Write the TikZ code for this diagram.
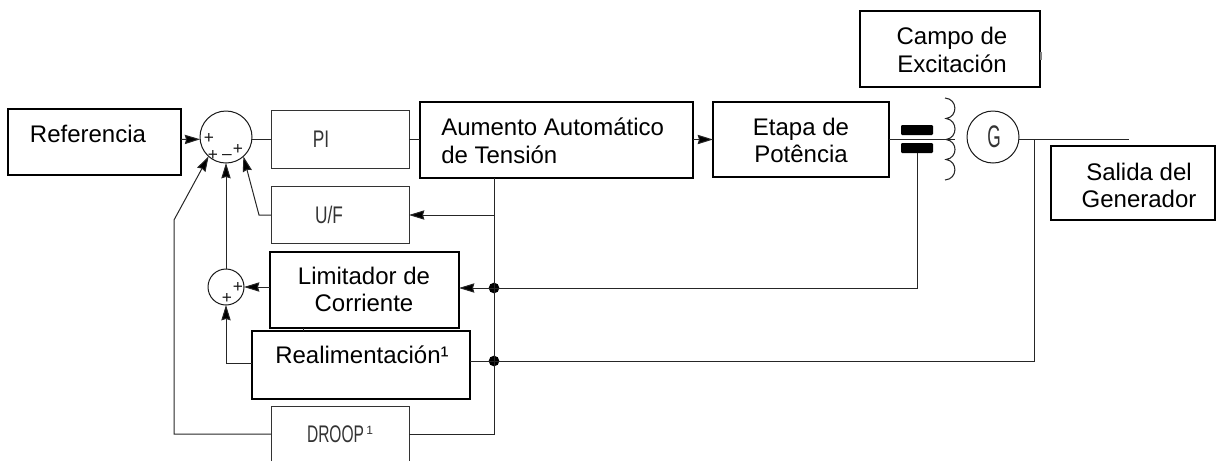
\documentclass[tikz,border=0pt]{standalone}
\usepackage{fontspec}
\setmainfont{Liberation Sans}
\usetikzlibrary{arrows.meta,calc}
\newcommand{\cadfont}[1]{\scalebox{0.72}[1]{\fontsize{18}{20}\selectfont #1}}
\tikzset{
  x=0.75pt,y=-0.75pt,
  boldbox/.style={draw=black,line width=1.3pt,inner sep=0pt,outer sep=0pt},
  thinbox/.style={draw=black!80,line width=0.75pt,inner sep=0pt,outer sep=0pt},
  ghostbox/.style={inner sep=0pt,outer sep=0pt},
  wire/.style={draw=black!85,line width=0.75pt},
  awire/.style={wire,-{Stealth[length=11.5pt,width=7pt,inset=1pt,fill=black]}},
  junction/.style={circle,fill=black,inner sep=0pt,minimum size=8pt,outer sep=0pt},
  ring/.style={circle,draw=black!90,line width=0.75pt,inner sep=0pt,outer sep=0pt},
  bar/.style={fill=black,rounded corners=0.8pt,inner sep=0pt,outer sep=0pt},
  lab/.style={align=center,font=\fontsize{18}{20.7}\selectfont,inner sep=0pt},
  cad/.style={inner sep=0pt,text=black!80},
  sign/.style={inner sep=0pt,text=black!90,font=\fontsize{13}{14}\selectfont},
}
\begin{document}
\begin{tikzpicture}
\useasboundingbox (0,0) rectangle (1216,461);
% boxes
\node[boldbox,minimum width=129.5pt,minimum height=49.5pt] (ref) at (94.5,142) {};
\node[thinbox,minimum width=103.5pt,minimum height=43.5pt] (pi) at (340,139) {};
\node[thinbox,minimum width=103.5pt,minimum height=42.75pt] (uf) at (340,214.5) {};
\node[boldbox,minimum width=204.75pt,minimum height=57pt] (aum) at (556.5,140) {};
\node[boldbox,minimum width=132pt,minimum height=56.25pt] (eta) at (801,139.5) {};
\node[boldbox,minimum width=135pt,minimum height=57pt] (cam) at (950,49) {};
\node[boldbox,minimum width=123pt,minimum height=55.5pt] (sal) at (1133,183) {};
\node[boldbox,minimum width=141.75pt,minimum height=57pt] (lim) at (364.5,290) {};
\node[boldbox,minimum width=163.5pt,minimum height=51pt] (rea) at (361,365) {};
\node[ghostbox,minimum width=103.5pt,minimum height=41.25pt] (dro) at (340,433.5) {};
\draw[thinbox] (dro.south west) -- (dro.north west) -- (dro.north east) -- (dro.south east);
% summing points and generator
\node[ring,minimum size=39pt] (sum) at (226,137) {};
\node[ring,minimum size=27pt] (sub) at (226,287) {};
\node[ring,minimum size=39pt] (gen) at (993,137) {};
% contact bars
\node[bar,minimum width=24pt,minimum height=7.5pt] (bup) at (917,130) {};
\node[bar,minimum width=24pt,minimum height=7.5pt] (bdn) at (917,148) {};
% routing points
\coordinate (ya) at (0,139.5);
\coordinate (yu) at (0,215);
\coordinate (yl) at (0,288);
\coordinate (yr) at (0,361);
\coordinate (yd) at (0,434);
\coordinate (busx) at (494,0);
\coordinate (coilend) at (955,139.5);
\coordinate (genout) at (1129,139);
\coordinate (genx) at (1034,139);
\coordinate (ufbend) at (259,215);
\coordinate (drbend) at (174,220);
\node[junction] (j1) at (busx |- yl) {};
\node[junction] (j2) at (busx |- yr) {};
% coil
\draw[wire,line width=0.8pt] (945,98)
  .. controls (958,99) and (958,117) .. (946,118.5)
  .. controls (958,120) and (958,138) .. (946,139.5)
  .. controls (958,141) and (958,158) .. (946,159.5)
  .. controls (958,161) and (958,179) .. (945,180);
% connectors
\draw[awire] (ref.east |- ya) -- (sum.185);
\draw[wire] (sum.east |- ya) -- (pi.west |- ya);
\draw[wire] (pi.east |- ya) -- (aum.west |- ya);
\draw[awire] (aum.east |- ya) -- (eta.west |- ya);
\draw[wire] (eta.east |- ya) -- (coilend);
\draw[wire] (gen.east |- genout) -- (genout);
\draw[wire] (genx) -- (genx |- yr) -- (rea.east |- yr);
\draw[wire] (bdn.south) -- (bdn.south |- yl) -- (j1.center);
\draw[awire] (j1.center) -- (lim.east |- yl);
\draw[wire] (busx |- aum.south) -- (busx |- yd) -- (dro.east |- yd);
\draw[awire] (busx |- yu) -- (uf.east |- yu);
\draw[awire] (uf.west |- yu) -- (ufbend) -- (sum.-48);
\draw[awire] (sub.north) -- (sum.south);
\draw[awire] (lim.west |- sub) -- (sub.east);
\draw[awire] (rea.west |- 0,363) -- (sub.south |- 0,363) -- (sub.south);
\draw[awire] (dro.west |- yd) -- (drbend |- yd) -- (drbend) -- (sum.-132);
\draw[wire] (303,328) -- (303,331);
\draw[draw=black!50,line width=0.9pt] (1041,52) -- (1041,60);
% labels
\node[lab] (t1) at (88,133.5) {Referencia};
\node[lab,align=left,anchor=west] (t2) at (441,140.5) {Aumento Automático\\de Tensión};
\node[lab] (t3) at (801,140.5) {Etapa de\\Potência};
\node[lab] (t4) at (952,50) {Campo de\\Excitación};
\node[lab] (t5) at (1139,185.5) {Salida del\\Generador};
\node[lab] (t6) at (364,289.5) {Limitador de\\Corriente};
\node[lab] (t7) at (362,355) {Realimentación¹};
\node[cad] (t8) at (321,139) {\cadfont{PI}};
\node[cad] (t9) at (329,215) {\cadfont{U/F}};
\node[cad] (t10) at (340,434) {\scalebox{0.9}[1]{\cadfont{DROOP}}\,\raisebox{6pt}{\fontsize{9}{10}\selectfont 1}};
\node[cad] (t11) at (994,137) {\scalebox{1}[1.3]{\cadfont{G}}};
% signs
\node[sign] (s1) at (209,138) {+};
\node[sign] (s2) at (213,155) {+};
\node[sign] (s3) at (227,157) {–};
\node[sign] (s4) at (238,149) {+};
\node[sign] (s5) at (238,287) {+};
\node[sign] (s6) at (227,298) {+};
\end{tikzpicture}
\end{document}
